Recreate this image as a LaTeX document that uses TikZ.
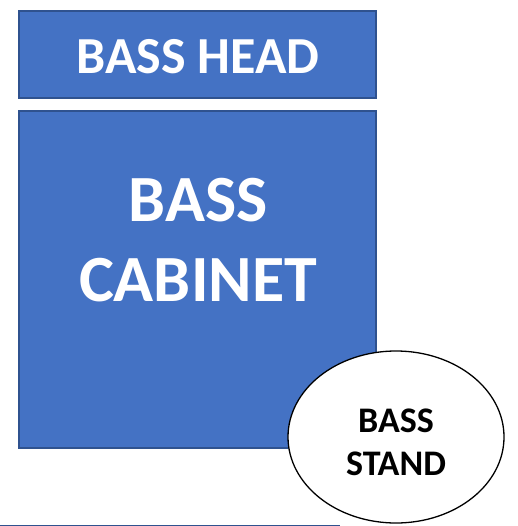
\documentclass[tikz,border=0pt]{standalone}
\usepackage{fontspec}
\setmainfont{Carlito}
\usetikzlibrary{shapes.geometric}
\definecolor{boxfill}{HTML}{4472C4}
\definecolor{boxline}{HTML}{2F528F}
\tikzset{
  bluebox/.style={fill=boxfill, draw=boxline, line width=1.5pt},
  whitetxt/.style={text=white, font=\bfseries, align=center},
}
\begin{document}
\begin{tikzpicture}[x=1pt,y=-1pt]
\useasboundingbox (0,0) rectangle (517,526);
\path[bluebox] (19,11) rectangle (376,98);
\node[whitetxt, font=\fontsize{52}{60}\selectfont\bfseries] (head) at (198,57) {BASS HEAD};
\path[bluebox] (19,111) rectangle (376,448);
\node[whitetxt, font=\fontsize{66}{80}\selectfont\bfseries] (cab) at (198,240) {BASS\\CABINET};
\node[ellipse, draw=black, line width=1.3pt, fill=white, minimum width=216pt, minimum height=172pt, inner sep=0pt] (stand) at (396,437) {};
\node[align=center, font=\fontsize{36}{43}\selectfont\bfseries] (standtxt) at (396,442) {BASS\\STAND};
\draw[boxline, line width=1pt] (0,525) coordinate (l1) -- (340,525) coordinate (l2);
\end{tikzpicture}
\end{document}
